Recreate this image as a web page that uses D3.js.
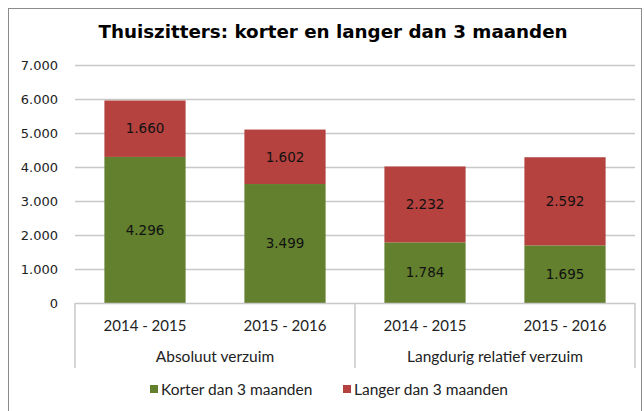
<!DOCTYPE html>
<html>
<head>
<meta charset="utf-8">
<script src="https://cdn.jsdelivr.net/npm/d3@7"></script>
<style>
  body { margin: 0; background: #fff; }
  svg { display: block; }
</style>
</head>
<body>
<svg id="chart" width="644" height="411"></svg>
<script>
// Chart data
const groups = ['Absoluut verzuim', 'Langdurig relatief verzuim'];
const periods = ['2014 - 2015', '2015 - 2016', '2014 - 2015', '2015 - 2016'];
const korter = [4296, 3499, 1784, 1695];
const langer = [1660, 1602, 2232, 2592];
const seriesNames = ['Korter dan 3 maanden', 'Langer dan 3 maanden'];
const yTicks = [0, 1000, 2000, 3000, 4000, 5000, 6000, 7000];

const colors = ['#62802d', '#b5423f'];
const nl = d3.formatLocale({ decimal: ',', thousands: '.', grouping: [3], currency: ['€', ''] });
const fmt = nl.format(',');

const svg = d3.select('#chart');

// Outer frame
svg.append('rect')
    .attr('x', 8.5).attr('y', 8.5)
    .attr('width', 633).attr('height', 420)
    .attr('fill', 'none')
    .attr('stroke', '#8c8c8c');

// Title
svg.append('text')
    .attr('x', 333).attr('y', 38)
    .attr('text-anchor', 'middle')
    .style('font-family', "'DejaVu Sans', sans-serif")
    .style('font-weight', 'bold')
    .style('font-size', '18.3px')
    .text('Thuiszitters: korter en langer dan 3 maanden');

const plotLeft = 75, plotRight = 635, plotTop = 65, plotBottom = 303;

const x = d3.scaleBand().domain(d3.range(periods.length)).range([plotLeft, plotRight])
    .paddingInner(0.42).paddingOuter(0.21);
const y = d3.scaleLinear().domain([0, 7000]).range([plotBottom, plotTop]);

// Gridlines
svg.append('g').selectAll('line')
    .data(yTicks.filter(d => d > 0))
    .enter().append('line')
    .attr('x1', plotLeft).attr('x2', plotRight)
    .attr('y1', d => y(d) + 0.5).attr('y2', d => y(d) + 0.5)
    .attr('stroke', '#c8c8c8').attr('stroke-width', 1.5);

// Y axis labels
svg.append('g').selectAll('text')
    .data(yTicks)
    .enter().append('text')
    .attr('x', 58).attr('y', d => y(d))
    .attr('dy', '0.35em')
    .attr('text-anchor', 'end')
    .style('font-family', "'DejaVu Sans', sans-serif")
    .style('font-size', '13px')
    .style('fill', '#222')
    .text(d => fmt(d));

// Stacked bars
const stacked = periods.map((p, i) => [
    { s: 0, y0: 0, y1: korter[i], v: korter[i] },
    { s: 1, y0: korter[i], y1: korter[i] + langer[i], v: langer[i] }
]);

const barG = svg.append('g');
stacked.forEach((segs, i) => {
    segs.forEach(seg => {
        barG.append('rect')
            .attr('x', x(i))
            .attr('y', y(seg.y1))
            .attr('width', x.bandwidth())
            .attr('height', y(seg.y0) - y(seg.y1))
            .attr('fill', colors[seg.s]);
        barG.append('text')
            .attr('x', x(i) + x.bandwidth() / 2)
            .attr('y', (y(seg.y0) + y(seg.y1)) / 2)
            .attr('dy', '0.35em')
            .attr('text-anchor', 'middle')
            .style('font-family', "'DejaVu Sans', sans-serif")
            .style('font-size', '13.5px')
            .style('fill', '#111')
            .text(fmt(seg.v));
    });
});

// X axis baseline and group dividers
const axisG = svg.append('g').attr('stroke', '#c8c8c8').attr('stroke-width', 1.5);
axisG.append('line').attr('x1', plotLeft).attr('x2', plotRight).attr('y1', plotBottom + 0.5).attr('y2', plotBottom + 0.5);
[0, 2, 4].forEach(k => {
    const xx = plotLeft + k * (plotRight - plotLeft) / periods.length;
    axisG.append('line').attr('x1', xx).attr('x2', xx).attr('y1', plotBottom).attr('y2', 368);
});

// Category labels
svg.append('g').selectAll('text')
    .data(periods)
    .enter().append('text')
    .attr('x', (d, i) => x(i) + x.bandwidth() / 2)
    .attr('y', 331)
    .attr('text-anchor', 'middle')
    .style('font-family', 'Lato, sans-serif')
    .style('font-size', '15px')
    .style('fill', '#222')
    .text(d => d);

// Group labels
svg.append('g').selectAll('text')
    .data(groups)
    .enter().append('text')
    .attr('x', (d, i) => plotLeft + (i * 2 + 1) * (plotRight - plotLeft) / periods.length)
    .attr('y', 362)
    .attr('text-anchor', 'middle')
    .style('font-family', 'Lato, sans-serif')
    .style('font-size', '15.5px')
    .style('fill', '#222')
    .text(d => d);

// Legend
const legendX = [150, 343];
const legend = svg.append('g').selectAll('g')
    .data(seriesNames)
    .enter().append('g')
    .attr('transform', (d, i) => `translate(${legendX[i]},390)`);
legend.append('rect')
    .attr('x', 0).attr('y', -5)
    .attr('width', 8).attr('height', 8)
    .attr('fill', (d, i) => colors[i]);
legend.append('text')
    .attr('x', 11).attr('y', 0)
    .attr('dy', '0.35em')
    .style('font-family', 'Lato, sans-serif')
    .style('font-size', '15.5px')
    .style('fill', '#222')
    .text(d => d);
</script>
</body>
</html>
